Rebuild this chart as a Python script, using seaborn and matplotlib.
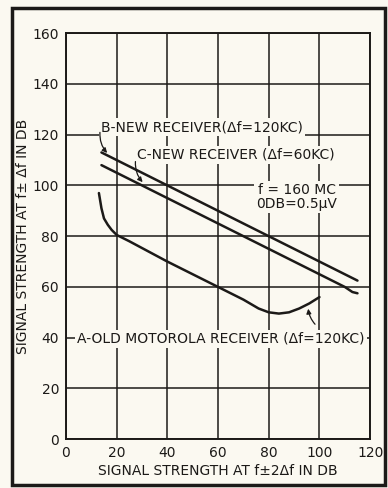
import matplotlib
matplotlib.use("Agg")
import matplotlib.pyplot as plt
from matplotlib.patches import Rectangle
import numpy as np
import pandas as pd
import seaborn as sns

# Curve A: old Motorola receiver (delta f = 120 kc)
a_x = [13, 14, 15, 16.5, 18, 20, 25, 40, 60, 70, 76, 80, 84, 88, 92, 96, 100]
a_y = [97, 91, 87, 84.5, 82.5, 80.5, 78, 70, 60, 55, 51.5, 50, 49.5, 50, 51.5, 53.5, 56]
# Curve B: new receiver (delta f = 120 kc)
b_x = [14, 40, 80, 115]
b_y = [113, 100, 80, 62.5]
# Curve C: new receiver (delta f = 60 kc)
c_x = [14, 40, 80, 110, 113, 115]
c_y = [108, 95, 75, 60, 58, 57.5]

x_ticks = [0, 20, 40, 60, 80, 100, 120]
y_ticks = [0, 20, 40, 60, 80, 100, 120, 140, 160]

ink = "#1c1a18"
paper = "#fbf9f1"

sns.set_style("white")
plt.rcParams["font.family"] = ["DejaVu Sans"]

fig = plt.figure(figsize=(3.88, 4.88), dpi=100, facecolor=paper)
ax = fig.add_axes([0.170, 0.100, 0.784, 0.832])
ax.set_facecolor(paper)

frames = []
for name, xs, ys in (("A", a_x, a_y), ("B", b_x, b_y), ("C", c_x, c_y)):
    frames.append(pd.DataFrame({"x": xs, "y": ys, "curve": name}))
df = pd.concat(frames, ignore_index=True)

sns.lineplot(data=df, x="x", y="y", units="curve", estimator=None, sort=False,
             color=ink, linewidth=1.8, ax=ax, legend=False)

ax.set_xlim(0, 120)
ax.set_ylim(0, 160)
ax.set_xticks(x_ticks)
ax.set_yticks(y_ticks)
ax.set_xticklabels([str(v) for v in x_ticks], fontsize=10)
ax.set_yticklabels([str(v) for v in y_ticks], fontsize=10)
ax.tick_params(length=0, colors=ink, pad=5)
ax.grid(True, color=ink, linewidth=1.1)
ax.set_axisbelow(True)
for s in ax.spines.values():
    s.set_color(ink)
    s.set_linewidth(1.4)

ax.set_xlabel("SIGNAL STRENGTH AT f\u00b12\u0394f IN DB", fontsize=10, color=ink, labelpad=3)
ax.set_ylabel("SIGNAL STRENGTH AT f\u00b1 \u0394f IN DB", fontsize=10, color=ink, labelpad=2)

box = dict(facecolor=paper, edgecolor="none", pad=1.5)

# Curve labels and leaders
ax.text(14, 123, "B-NEW RECEIVER(\u0394f=120KC)", fontsize=10, color=ink,
        ha="left", va="center", bbox=box)
ax.annotate("", xy=(17, 112), xytext=(13.5, 122),
            arrowprops=dict(arrowstyle="-|>", color=ink, lw=0.9, mutation_scale=7,
                            connectionstyle="arc3,rad=0.25"))
ax.text(28, 112, "C-NEW RECEIVER (\u0394f=60KC)", fontsize=10, color=ink,
        ha="left", va="center", bbox=box)
ax.annotate("", xy=(31, 100.5), xytext=(27.5, 110.5),
            arrowprops=dict(arrowstyle="-|>", color=ink, lw=0.9, mutation_scale=7,
                            connectionstyle="arc3,rad=0.25"))
ax.text(91, 95.5, "f = 160 MC\n0DB=0.5\u03bcV", fontsize=10, color=ink,
        ha="center", va="center", linespacing=0.95, bbox=box)
ax.text(4.5, 39.5, "A-OLD MOTOROLA RECEIVER (\u0394f=120KC)", fontsize=10, color=ink,
        ha="left", va="center", bbox=box)
ax.annotate("", xy=(95.5, 52.5), xytext=(99, 44.5),
            arrowprops=dict(arrowstyle="-|>", color=ink, lw=0.9, mutation_scale=7,
                            connectionstyle="arc3,rad=-0.2"))

# Border around the whole figure
fig.patches.append(Rectangle((0.031, 0.006), 0.961, 0.978, transform=fig.transFigure,
                             fill=False, edgecolor=ink, linewidth=2.5))

fig.savefig("out.png", dpi=100, facecolor=paper)
